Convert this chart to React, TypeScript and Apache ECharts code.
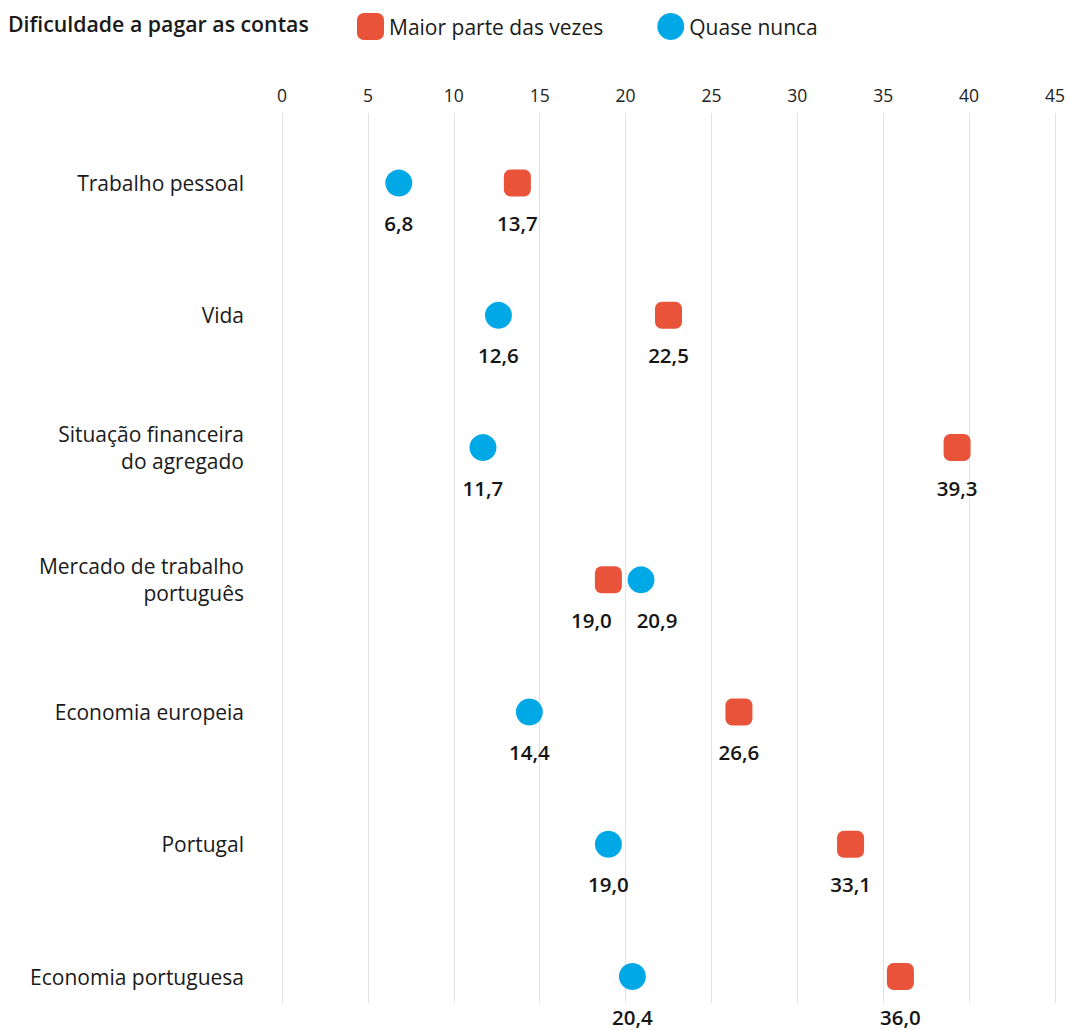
import React, { useEffect, useRef } from "react";
import * as echarts from "echarts";

const categories = [
  "Trabalho pessoal",
  "Vida",
  "Situação financeira\ndo agregado",
  "Mercado de trabalho\nportuguês",
  "Economia europeia",
  "Portugal",
  "Economia portuguesa",
];
const maiorParte = [13.7, 22.5, 39.3, 19.0, 26.6, 33.1, 36.0];
const quaseNunca = [6.8, 12.6, 11.7, 20.9, 14.4, 19.0, 20.4];
const seriesNames = ["Maior parte das vezes", "Quase nunca"];
const titleText = "Dificuldade a pagar as contas";

const RED = "#E9533A";
const BLUE = "#00A9E6";
const FONT = "'Open Sans', 'Noto Sans', sans-serif";

// push apart value labels of the two series when the points are close on a row
function buildData(values: number[], others: number[]) {
  return values.map((v, i) => {
    const o = others[i];
    if (Math.abs(v - o) < 3) {
      return { value: [v, i], label: { offset: [v < o ? -17 : 16, 0] } };
    }
    return { value: [v, i] };
  });
}

export default function App() {
  const ref = useRef<HTMLDivElement>(null);
  useEffect(() => {
    document.body.style.margin = "0";
    const chart = echarts.init(ref.current!, null, { renderer: "svg" });
    const fmt = (p: any) => (p.value[0] as number).toFixed(1).replace(".", ",");
    const label = {
      show: true,
      position: "bottom",
      distance: 16,
      formatter: fmt,
      fontFamily: FONT,
      fontSize: 20.5,
      fontWeight: 600,
      color: "#151515",
    };
    chart.setOption({
      animation: false,
      textStyle: { fontFamily: FONT },
      title: {
        text: titleText,
        left: 8,
        top: 13,
        padding: 0,
        textStyle: { fontFamily: FONT, fontSize: 21.3, fontWeight: 600, color: "#1a1a1a" },
      },
      legend: {
        left: 357,
        top: 13,
        padding: 0,
        itemWidth: 27,
        itemHeight: 27,
        itemGap: 54,
        textStyle: { fontFamily: FONT, fontSize: 21, color: "#1a1a1a" },
        data: [
          { name: seriesNames[0], icon: "roundRect" },
          { name: seriesNames[1], icon: "circle" },
        ],
      },
      grid: { left: 282, right: 14, top: 113, bottom: 27, containLabel: false },
      xAxis: {
        type: "value",
        position: "top",
        min: 0,
        max: 45,
        interval: 5,
        axisLine: { show: false },
        axisTick: { show: false },
        axisLabel: { fontFamily: FONT, fontSize: 17.5, color: "#222", margin: 9 },
        splitLine: { show: true, lineStyle: { color: "#e2e2e2", width: 1 } },
      },
      yAxis: {
        type: "value",
        inverse: true,
        min: -0.53,
        max: 6.2,
        splitNumber: 7,
        axisLine: { show: false },
        axisTick: { show: false },
        splitLine: { show: false },
        axisLabel: {
          showMinLabel: false,
          showMaxLabel: false,
          margin: 38,
          fontFamily: FONT,
          fontSize: 21,
          lineHeight: 27,
          color: "#1a1a1a",
          align: "right",
          formatter: (v: number) =>
            Number.isInteger(v) && v >= 0 && v < categories.length ? categories[v] : "",
        },
      },
      series: [
        {
          name: seriesNames[0],
          type: "scatter",
          symbol: "roundRect",
          symbolSize: 27,
          itemStyle: { color: RED, opacity: 1 },
          label,
          data: buildData(maiorParte, quaseNunca),
        },
        {
          name: seriesNames[1],
          type: "scatter",
          symbol: "circle",
          symbolSize: 27,
          itemStyle: { color: BLUE, opacity: 1 },
          label,
          data: buildData(quaseNunca, maiorParte),
        },
      ],
    });
    return () => chart.dispose();
  }, []);
  return <div ref={ref} style={{ width: 1069, height: 1030 }} />;
}
